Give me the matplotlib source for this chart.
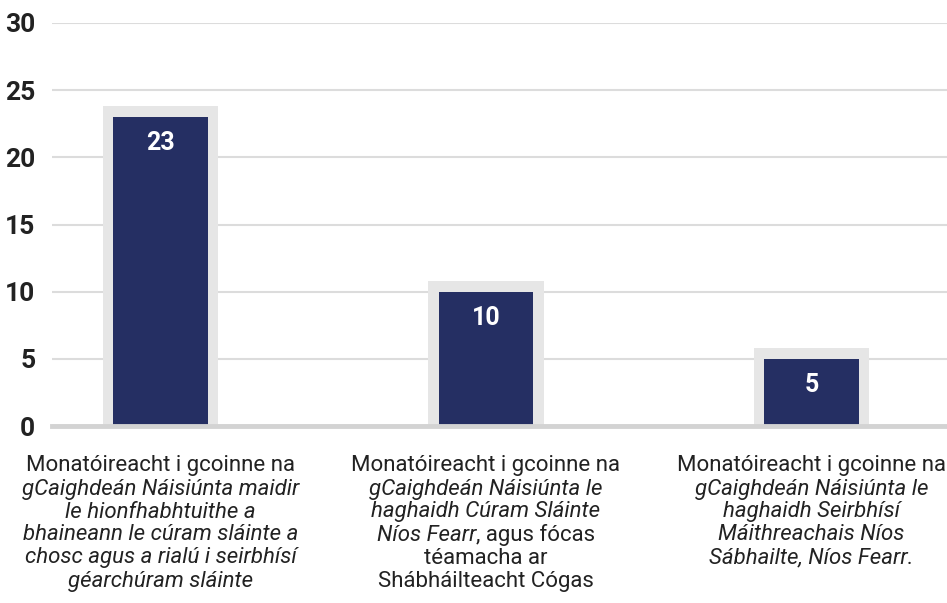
import matplotlib
matplotlib.use("Agg")
import matplotlib.pyplot as plt
from matplotlib import font_manager
from matplotlib.offsetbox import TextArea, HPacker, AnnotationBbox

names = {f.name for f in font_manager.fontManager.ttflist}
FONT = "Liberation Sans Narrow" if "Liberation Sans Narrow" in names else "Roboto"
plt.rcParams["font.family"] = [FONT, "DejaVu Sans"]

categories = ["cat1", "cat2", "cat3"]
values = [23, 10, 5]
value_labels = ["23", "10", "5"]
yticks = [0, 5, 10, 15, 20, 25, 30]

# label lines: list of (text, italic) segments
label_lines = [
    [[("Monatóireacht i gcoinne na", False)],
     [("gCaighdeán Náisiúnta maidir", True)],
     [("le hionfhabhtuithe a", True)],
     [("bhaineann le cúram sláinte a", True)],
     [("chosc agus a rialú i seirbhísí", True)],
     [("géarchúram sláinte", True)]],
    [[("Monatóireacht i gcoinne na", False)],
     [("gCaighdeán Náisiúnta le", True)],
     [("haghaidh Cúram Sláinte", True)],
     [("Níos Fearr", True), (", agus fócas", False)],
     [("téamacha ar", False)],
     [("Shábháilteacht Cógas", False)]],
    [[("Monatóireacht i gcoinne na", False)],
     [("gCaighdeán Náisiúnta le", True)],
     [("haghaidh Seirbhísí", True)],
     [("Máithreachais Níos", True)],
     [("Sábhailte, Níos Fearr.", True)]],
]

NAVY = "#252f63"
FRAME = "#e6e6e6"
GRID = "#dcdcdc"

fig = plt.figure(figsize=(9.47, 6.03), dpi=100)
ax = fig.add_axes([52 / 947, 1 - 426 / 603, (947 - 52) / 947, (426 - 23) / 603 * 1.0])
ax.set_ylim(0, 30)
ax.set_xlim(-0.333, 2.416)

x = list(range(len(categories)))
ax.bar(x, [v + 0.8 for v in values], width=0.355, color=FRAME, zorder=2)
ax.bar(x, values, width=0.29, color=NAVY, zorder=3)

for xi, v, lab in zip(x, values, value_labels):
    ax.annotate(lab, (xi, v), xytext=(0, -19), textcoords="offset points",
                ha="center", va="center", color="white", fontsize=18,
                fontweight="bold", zorder=4)

ax.set_yticks(yticks)
ax.set_yticklabels([str(t) for t in yticks], fontsize=19, fontweight="bold",
                   color="#222222")
ax.tick_params(axis="y", length=0, pad=12)
ax.set_xticks([])
ax.grid(axis="y", color=GRID, linewidth=1.5, zorder=0)
ax.set_axisbelow(True)
for s in ax.spines.values():
    s.set_visible(False)
ax.axhline(0, color="#d3d3d3", linewidth=3.5, zorder=5, clip_on=False)

for xi, lines in zip(x, label_lines):
    for i, segs in enumerate(lines):
        areas = [TextArea(t, textprops=dict(fontsize=16, color="#222222",
                                            style="italic" if it else "normal",
                                            family=[FONT, "DejaVu Sans"]))
                 for t, it in segs]
        box = HPacker(children=areas, align="baseline", pad=0, sep=0)
        ab = AnnotationBbox(box, (xi, 0), xybox=(0, -(40 + 23 * i) * 0.72),
                            xycoords="data", boxcoords="offset points",
                            box_alignment=(0.5, 0.5), frameon=False, pad=0,
                            annotation_clip=False)
        ax.add_artist(ab)

fig.savefig("out.png", dpi=100)
